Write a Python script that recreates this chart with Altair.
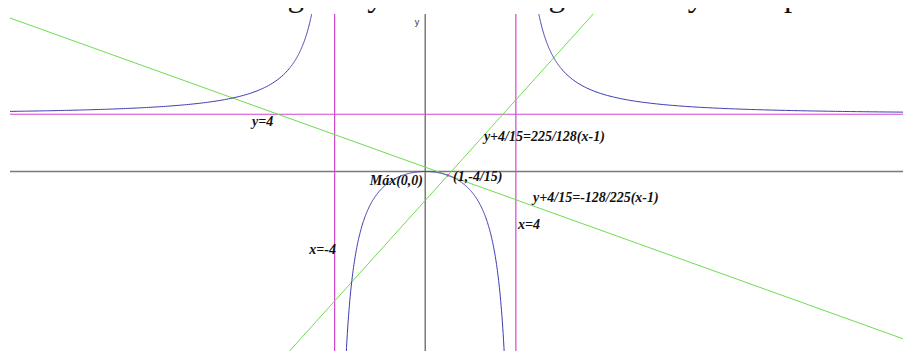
import altair as alt
import numpy as np
import pandas as pd

# Function y = A*x^2 / (x^2 - B)
A = 4.0
B = 16.0
x_dom = [-18.33, 21.09]
y_dom = [-12.55, 11.01]
x_pt, y_pt = 1.0, -4.0 / 15.0
m_tangent = -128.0 / 225.0
m_normal = 225.0 / 128.0
asym_v = [-4.0, 4.0]
asym_h = [4.0]

title_text = "Calcula las rectas tangente y normal a la gráfica de y en el punto de abscisa x = 1"

label_texts = ["y=4", "y+4/15=225/128(x-1)", "Máx(0,0)", "(1,-4/15)",
               "y+4/15=-128/225(x-1)", "x=4", "x=-4"]
label_x = [-7.65, 2.59, -0.1, 1.23, 4.76, 4.1, -3.94]
label_y = [3.46, 2.41, -0.66, -0.38, -1.85, -3.74, -5.49]
label_side = ["left", "left", "right", "left", "left", "left", "right"]

BLUE = "#3c3cb0"
GREEN = "#6edc50"
MAGENTA = "#d048d0"
GRAY = "#7a7a7a"

# curve branches
branches = {
    "left": np.concatenate([np.linspace(x_dom[0] - 0.2, -6.0, 150), np.linspace(-6.0, -4.55, 150)]),
    "mid": np.linspace(-3.62, 3.62, 400),
    "right": np.concatenate([np.linspace(4.55, 6.0, 150), np.linspace(6.0, x_dom[1] + 0.2, 150)]),
}
rows = []
for name, xs_ in branches.items():
    for i, xv in enumerate(xs_):
        rows.append({"branch": name, "i": i, "x": float(xv), "y": float(A * xv**2 / (xv**2 - B))})
curve_df = pd.DataFrame(rows)

xe = np.array(x_dom)
lines_df = pd.DataFrame({
    "line": ["tan", "tan", "norm", "norm"],
    "x": list(xe) * 2,
    "y": list(y_pt + m_tangent * (xe - x_pt)) + list(y_pt + m_normal * (xe - x_pt)),
})

xs = alt.Scale(domain=x_dom, nice=False, zero=False)
ys = alt.Scale(domain=y_dom, nice=False, zero=False)
X = lambda f: alt.X(f, type="quantitative", scale=xs, axis=None)
Y = lambda f: alt.Y(f, type="quantitative", scale=ys, axis=None)

base_empty = alt.Chart(pd.DataFrame({"v": [0.0]}))

x_axis = base_empty.mark_rule(color=GRAY, strokeWidth=1.5).encode(y=Y("v"))
y_axis = base_empty.mark_rule(color=GRAY, strokeWidth=1.5).encode(x=X("v"))

vert = alt.Chart(pd.DataFrame({"v": asym_v})).mark_rule(color=MAGENTA, strokeWidth=1.2).encode(x=X("v"))
horiz = alt.Chart(pd.DataFrame({"v": asym_h})).mark_rule(color=MAGENTA, strokeWidth=1.2).encode(y=Y("v"))

green = alt.Chart(lines_df).mark_line(color=GREEN, strokeWidth=1, clip=True).encode(
    x=X("x"), y=Y("y"), detail="line:N")

curve = alt.Chart(curve_df).mark_line(color=BLUE, strokeWidth=1, clip=True).encode(
    x=X("x"), y=Y("y"), detail="branch:N", order="i:Q")

pt = alt.Chart(pd.DataFrame({"x": [x_pt], "y": [y_pt]})).mark_point(
    filled=True, color=MAGENTA, size=8, opacity=1).encode(x=X("x"), y=Y("y"))

lab_df = pd.DataFrame({"t": label_texts, "x": label_x, "y": label_y, "side": label_side})
lab_style = dict(font="Liberation Serif", fontSize=14, fontStyle="italic", fontWeight="bold",
                 color="#111111", baseline="middle")
lab_left = alt.Chart(lab_df).transform_filter(alt.datum.side == "left").mark_text(
    align="left", **lab_style).encode(x=X("x"), y=Y("y"), text="t:N")
lab_right = alt.Chart(lab_df).transform_filter(alt.datum.side == "right").mark_text(
    align="right", **lab_style).encode(x=X("x"), y=Y("y"), text="t:N")

ylab = alt.Chart(pd.DataFrame({"t": ["y"], "x": [-0.36], "y": [10.45]})).mark_text(
    font="Liberation Sans", fontSize=9, color="#333333", align="center", baseline="middle").encode(
    x=X("x"), y=Y("y"), text="t:N")

title = alt.Chart(pd.DataFrame({"t": [title_text]})).mark_text(
    font="Liberation Serif", fontSize=33, color="#111111", align="left", baseline="alphabetic",
    clip=False, limit=893, ellipsis="").encode(x=alt.value(-2), y=alt.value(-8), text="t:N")

chart = alt.layer(x_axis, y_axis, vert, horiz, green, curve, pt, lab_left, lab_right, ylab, title).properties(
    width=893, height=337,
    autosize=alt.AutoSizeParams(type="none"),
    padding={"left": 2, "top": 6, "right": 0, "bottom": 0},
).configure_view(strokeWidth=0)

chart.save("out.html", embed_options={"renderer": "svg", "actions": False})
